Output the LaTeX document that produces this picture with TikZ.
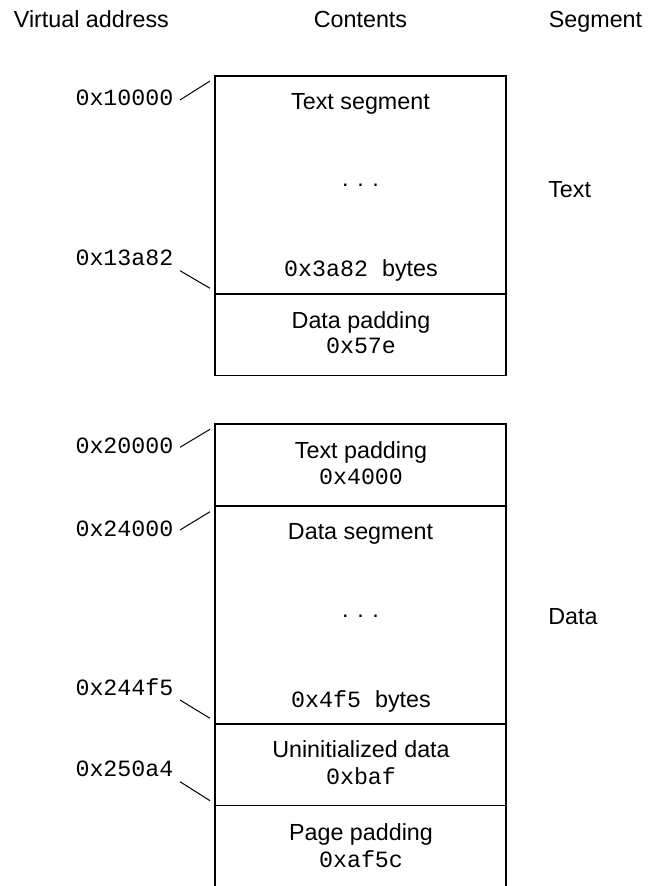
\documentclass[tikz,border=0pt]{standalone}
\usepackage{fontspec}
\setmainfont{Liberation Sans}
\setmonofont{Liberation Mono}

\begin{document}
\begin{tikzpicture}[x=0.5pt, y=-0.5pt, line width=0.6pt,
    txt/.style={anchor=base, inner sep=0pt, font=\fontsize{11.65}{14}\selectfont},
    addr/.style={anchor=base east, inner sep=0pt, font=\fontsize{11.65}{14}\selectfont\ttfamily},
    leader/.style={line width=0.5pt}]
      \useasboundingbox (0,0) rectangle (649,886);

      \node[txt, anchor=base west] (hvaddr) at (13.3,27.5) {Virtual address};
      \node[txt] (hcontents) at (360.5,27.5) {Contents};
      \node[txt, anchor=base west] (hsegment) at (548.3,27.5) {Segment};

      \draw (215,76) rectangle (506,375.7);
      \draw (215,294) -- (506,294);
      \node[txt] (tseg) at (360.5,109.3) {Text segment};
      \node[txt] (tdots) at (360.5,186.5) {. . .};
      \node[txt] (tsize) at (361,277) {\texttt{0x3a82\ }bytes};
      \node[txt] (dpad) at (361,328.3) {Data padding};
      \node[txt] (dpadsize) at (361,354) {\texttt{0x57e}};
      \node[txt, anchor=base west] (stext) at (547.7,198) {Text};

      \draw (215,886) -- (215,424) -- (506,424) -- (506,886);
      \draw (215,506) -- (506,506);
      \draw (215,724) -- (506,724);
      \draw (215,805.7) -- (506,805.7);
      \node[txt] (tpad) at (361,458.3) {Text padding};
      \node[txt] (tpadsize) at (361,484) {\texttt{0x4000}};
      \node[txt] (dseg) at (360.5,539.3) {Data segment};
      \node[txt] (ddots) at (360.5,617.5) {. . .};
      \node[txt] (dsize) at (361,707.3) {\texttt{0x4f5\ }bytes};
      \node[txt] (bss) at (361,757.3) {Uninitialized data};
      \node[txt] (bsssize) at (361,784.3) {\texttt{0xbaf}};
      \node[txt] (ppad) at (361,840) {Page padding};
      \node[txt] (ppadsize) at (361,867.3) {\texttt{0xaf5c}};
      \node[txt, anchor=base west] (sdata) at (547.7,624) {Data};

      \node[addr] (a1) at (174,106) {0x10000};
      \node[addr] (a2) at (174,265.7) {0x13a82};
      \node[addr] (a3) at (174,453.3) {0x20000};
      \node[addr] (a4) at (174,536) {0x24000};
      \node[addr] (a5) at (174,695) {0x244f5};
      \node[addr] (a6) at (174,776.7) {0x250a4};
      \coordinate (e1) at (210,81);
      \coordinate (e2) at (210,288.3);
      \coordinate (e3) at (210,429.3);
      \coordinate (e4) at (210,511.7);
      \coordinate (e5) at (210,718.3);
      \coordinate (e6) at (210,800.7);
      \draw[leader] ([shift={(6,-6)}]a1.base east) -- (e1);
      \draw[leader] ([shift={(6,5)}]a2.base east) -- (e2);
      \draw[leader] ([shift={(6,-6)}]a3.base east) -- (e3);
      \draw[leader] ([shift={(6,-6)}]a4.base east) -- (e4);
      \draw[leader] ([shift={(6,5)}]a5.base east) -- (e5);
      \draw[leader] ([shift={(6,5)}]a6.base east) -- (e6);
\end{tikzpicture}
\end{document}
